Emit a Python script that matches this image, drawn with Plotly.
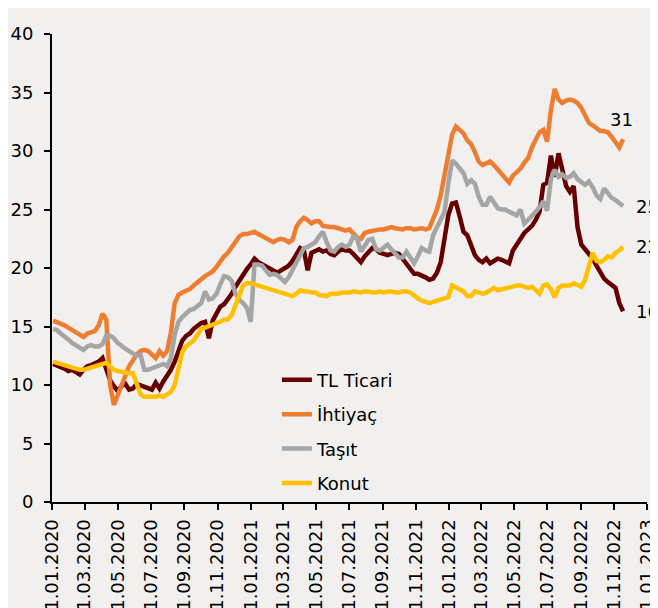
import pandas as pd
import plotly.graph_objects as go

# Weekly observations (first week ending 03.01.2020)
start_date = "2020-01-03"

tl_ticari = [
    11.8, 11.7, 11.5, 11.4, 11.2, 11.3, 11.1, 10.9, 11.3, 11.6, 11.7, 11.8, 12.0, 12.3, 11.3, 10.4, 9.9, 9.5, 9.9, 10.1,
    9.6, 9.7, 10.1, 10.0, 9.8, 9.7, 9.6, 10.2, 9.7, 10.3, 10.8, 11.3, 12.0, 12.9, 13.8, 14.2, 14.4, 14.8, 15.1, 15.3,
    15.4, 14.0, 15.5, 16.1, 16.7, 16.9, 17.3, 17.8, 18.4, 18.9, 19.5, 19.9, 20.3, 20.8, 20.5, 20.3, 20.2, 20.0, 19.7, 19.6,
    19.8, 20.0, 20.2, 20.6, 21.2, 21.7, 21.5, 19.8, 21.3, 21.5, 21.6, 21.4, 21.5, 21.2, 21.1, 21.4, 21.6, 21.5, 21.5, 21.2,
    20.8, 20.5, 21.0, 21.4, 21.7, 21.6, 21.3, 21.2, 21.1, 21.2, 21.3, 21.2, 20.8, 20.4, 19.9, 19.5, 19.5, 19.4, 19.2, 19.0,
    19.1, 19.6, 20.5, 22.5, 24.5, 25.5, 25.6, 24.4, 23.1, 22.8, 22.0, 21.1, 20.7, 20.5, 20.8, 20.4, 20.6, 20.8, 20.7, 20.5,
    20.4, 21.5, 22.0, 22.4, 23.0, 23.3, 23.6, 24.1, 24.8, 27.1, 27.3, 29.6, 27.8, 29.8, 28.5, 27.0, 26.5, 27.0, 23.5, 22.0,
    21.6, 21.2, 20.8, 20.2, 19.7, 19.1, 18.8, 18.5, 18.3, 17.0, 16.3,
]

ihtiyac = [
    15.5, 15.4, 15.3, 15.1, 14.9, 14.7, 14.5, 14.3, 14.1, 14.4, 14.5, 14.6, 15.1, 16.1, 15.6, 10.0, 8.3, 9.1, 10.0, 10.7,
    11.6, 12.1, 12.6, 12.9, 13.0, 12.9, 12.6, 12.3, 12.9, 12.5, 12.9, 14.5, 17.0, 17.7, 17.9, 18.0, 18.2, 18.5, 18.8, 19.1,
    19.3, 19.5, 19.7, 20.1, 20.6, 21.0, 21.3, 21.8, 22.3, 22.7, 22.9, 22.9, 23.0, 23.1, 22.9, 22.7, 22.5, 22.3, 22.2, 22.4,
    22.5, 22.4, 22.2, 22.4, 23.5, 24.0, 24.3, 24.1, 23.8, 24.0, 24.0, 23.6, 23.5, 23.5, 23.5, 23.4, 23.2, 23.2, 23.3, 23.0,
    22.6, 22.5, 23.0, 23.1, 23.2, 23.2, 23.3, 23.3, 23.4, 23.5, 23.4, 23.3, 23.3, 23.4, 23.4, 23.3, 23.4, 23.4, 23.3, 23.4,
    24.2, 25.0, 26.2, 27.9, 29.4, 31.4, 32.1, 31.8, 31.5, 30.9, 30.6, 29.9, 29.1, 28.8, 28.9, 29.1, 28.8, 28.4, 28.0, 27.6,
    27.3, 27.9, 28.2, 28.5, 29.0, 29.4, 30.3, 31.0, 31.6, 31.8, 30.8, 33.5, 35.3, 34.4, 34.1, 34.3, 34.4, 34.3, 34.1, 33.7,
    33.0, 32.4, 32.2, 32.0, 31.7, 31.7, 31.6, 31.2, 30.8, 30.3, 31.0,
]

tasit = [
    14.8, 14.7, 14.4, 14.2, 13.9, 13.6, 13.4, 13.2, 13.0, 13.3, 13.4, 13.3, 13.3, 13.5, 14.2, 14.2, 14.0, 13.6, 13.3, 13.1,
    12.9, 12.7, 12.5, 12.6, 11.3, 11.3, 11.4, 11.5, 11.7, 11.8, 11.6, 12.3, 14.3, 15.4, 15.8, 16.1, 16.4, 16.5, 16.8, 17.0,
    18.0, 17.3, 17.4, 17.8, 18.6, 19.3, 19.2, 18.9, 17.8, 17.3, 17.0, 16.6, 15.4, 20.3, 20.3, 20.2, 19.8, 19.4, 19.5, 19.4,
    19.1, 18.8, 19.2, 19.8, 20.6, 21.2, 21.7, 21.8, 22.0, 22.2, 22.7, 23.1, 22.2, 21.5, 21.4, 21.8, 22.0, 21.8, 22.0, 22.7,
    22.5, 21.4, 21.9, 22.4, 22.5, 21.6, 21.5, 21.8, 22.0, 21.6, 21.2, 20.9, 20.9, 21.4, 20.9, 20.4, 21.0, 21.7, 21.5, 21.4,
    22.8, 23.5, 24.0, 24.8, 27.2, 29.2, 28.9, 28.5, 28.1, 27.2, 27.5, 27.2, 26.1, 25.4, 25.4, 26.1, 25.5, 25.1, 25.0, 25.0,
    24.8, 24.6, 24.5, 25.0, 23.8, 24.1, 24.4, 24.8, 25.2, 25.7, 24.9, 27.6, 28.4, 27.8, 28.0, 27.7, 27.8, 28.1, 27.6, 27.3,
    27.1, 27.4, 26.9, 26.2, 25.9, 26.8, 26.4, 26.0, 25.8, 25.6, 25.3,
]

konut = [
    12.0, 11.9, 11.7, 11.6, 11.5, 11.5, 11.4, 11.3, 11.3, 11.4, 11.4, 11.5, 11.6, 11.7, 11.9, 11.6, 11.3, 11.2, 11.1, 11.1,
    11.0, 11.0, 10.2, 9.2, 9.0, 9.0, 9.0, 9.0, 9.1, 9.0, 9.2, 9.4, 10.0, 11.6, 12.8, 13.3, 13.6, 13.8, 14.3, 14.8,
    14.9, 15.0, 15.1, 15.2, 15.4, 15.6, 15.6, 16.0, 16.8, 17.8, 18.5, 18.7, 18.7, 18.6, 18.5, 18.3, 18.3, 18.2, 18.1, 18.0,
    17.9, 17.8, 17.7, 17.6, 17.8, 18.1, 18.0, 18.0, 17.9, 17.9, 17.7, 17.6, 17.6, 17.8, 17.8, 17.8, 17.9, 17.9, 17.9, 18.0,
    17.9, 17.9, 18.0, 18.0, 17.9, 17.9, 18.0, 17.9, 18.0, 18.0, 17.9, 17.9, 18.0, 18.0, 17.9, 17.6, 17.4, 17.2, 17.1, 17.0,
    17.1, 17.2, 17.3, 17.4, 17.5, 18.5, 18.3, 18.2, 18.0, 17.6, 17.6, 18.0, 17.9, 17.8, 17.9, 18.1, 18.3, 18.1, 18.2, 18.3,
    18.4, 18.5, 18.5, 18.5, 18.4, 18.3, 18.4, 18.1, 17.8, 18.5, 18.6, 18.2, 17.5, 18.3, 18.5, 18.5, 18.5, 18.7, 18.6, 18.4,
    19.0, 20.2, 21.3, 20.6, 20.5, 20.7, 21.0, 20.9, 21.3, 21.5, 21.8,
]

series_names = ["TL Ticari", "İhtiyaç", "Taşıt", "Konut"]
series_colors = ["#660000", "#ED7D31", "#A5A5A5", "#FFC000"]
end_labels = ["16", "31", "25", "22"]

tick_dates = ["2020-01-01", "2020-03-01", "2020-05-01", "2020-07-01", "2020-09-01", "2020-11-01",
              "2021-01-01", "2021-03-01", "2021-05-01", "2021-07-01", "2021-09-01", "2021-11-01",
              "2022-01-01", "2022-03-01", "2022-05-01", "2022-07-01", "2022-09-01", "2022-11-01",
              "2023-01-01"]
y_ticks = [0, 5, 10, 15, 20, 25, 30, 35, 40]

dates = pd.date_range(start=start_date, periods=len(tl_ticari), freq="7D")
all_series = [tl_ticari, ihtiyac, tasit, konut]

FONT = "DejaVu Sans"
BG = "#F2F0EE"

fig = go.Figure()
for name, vals, col in zip(series_names, all_series, series_colors):
    fig.add_trace(go.Scatter(
        x=dates, y=vals, name=name, mode="lines", legendgroup=name,
        line=dict(color=col, width=4.5),
        hoverinfo="skip",
    ))

# end-value labels
label_offsets = {"TL Ticari": (24, 0, "center"), "İhtiyaç": (-2, 20, "center"),
                 "Taşıt": (24, -1, "center"), "Konut": (24, 0, "center")}
for name, vals, lab in zip(series_names, all_series, end_labels):
    dx, dy, anc = label_offsets[name]
    fig.add_annotation(x=dates[-1], y=vals[-1], text=lab, showarrow=False,
                       xshift=dx, yshift=dy, xanchor=anc, yanchor="middle",
                       font=dict(family=FONT, size=18, color="#000000"))

fig.update_layout(
    width=650, height=600,
    template="none",
    paper_bgcolor=BG, plot_bgcolor=BG,
    margin=dict(l=44, r=11, t=26, b=106),
    font=dict(family=FONT, size=18, color="#000000"),
    showlegend=True,
    legend=dict(x=0.378, y=0.30, xanchor="left", yanchor="top",
                bgcolor="rgba(0,0,0,0)", font=dict(family=FONT, size=18, color="#000000"),
                traceorder="grouped", tracegroupgap=8, itemwidth=30),
    xaxis=dict(
        type="date", range=["2020-01-01", "2023-01-01"],
        tickmode="array", tickvals=tick_dates, tickformat="%d.%m.%Y",
        tickangle=-90, ticks="outside", ticklen=6, tickwidth=1.5, tickcolor="#000000",
        showline=True, linecolor="#000000", linewidth=2,
        showgrid=False, zeroline=False, automargin=False,
        ticklabelstandoff=2,
        tickfont=dict(family=FONT, size=18, color="#000000"),
    ),
    yaxis=dict(
        range=[0, 40], tickmode="array", tickvals=y_ticks,
        ticks="outside", ticklen=6, tickwidth=1.5, tickcolor="#000000",
        showline=True, linecolor="#000000", linewidth=2,
        showgrid=False, zeroline=False, automargin=False,
        ticklabelstandoff=7,
        tickfont=dict(family=FONT, size=18, color="#000000"),
    ),
)

fig.write_html("out.html")
